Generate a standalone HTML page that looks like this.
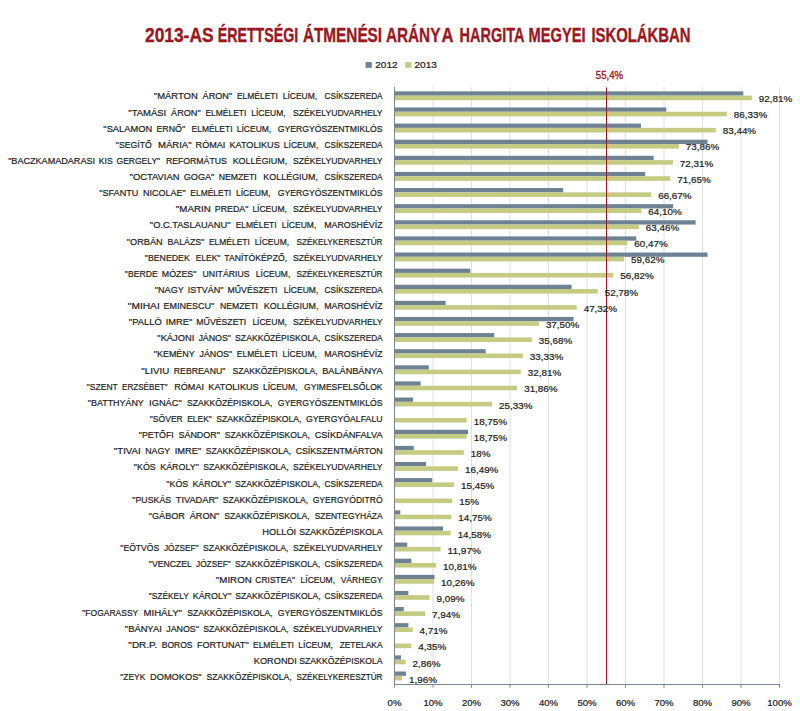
<!DOCTYPE html>
<html><head><meta charset="utf-8"><title>chart</title>
<style>
html,body{margin:0;padding:0;background:#fff;}
body{width:800px;height:711px;overflow:hidden;}
svg{display:block;font-family:"Liberation Sans",sans-serif;}
.c{font-size:9.85px;fill:#1c1c22;stroke:#1c1c22;stroke-width:0.22px;}
.v{font-size:9.8px;fill:#1c1c22;stroke:#1c1c22;stroke-width:0.22px;}
.a{font-size:9.7px;fill:#1c1c22;text-anchor:middle;stroke:#1c1c22;stroke-width:0.22px;}
</style></head><body>
<svg width="800" height="711" viewBox="0 0 800 711">
<rect width="800" height="711" fill="#fff"/>
<g font-size="20.2px" font-weight="bold" fill="#9b1620" stroke="#9b1620" stroke-width="0.35"><text x="145.00" y="42.4" textLength="68.50" lengthAdjust="spacingAndGlyphs">2013-AS</text><text x="217.70" y="42.4" textLength="80.50" lengthAdjust="spacingAndGlyphs">ÉRETTSÉGI</text><text x="302.90" y="42.4" textLength="79.20" lengthAdjust="spacingAndGlyphs">ÁTMENÉSI</text><text x="385.90" y="42.4" textLength="54.45" lengthAdjust="spacingAndGlyphs">ARÁNY</text><text x="441.40" y="42.4" textLength="12.00" lengthAdjust="spacingAndGlyphs">A</text><text x="459.60" y="42.4" textLength="64.75" lengthAdjust="spacingAndGlyphs">HARGITA</text><text x="528.60" y="42.4" textLength="57.00" lengthAdjust="spacingAndGlyphs">MEGYEI</text><text x="591.40" y="42.4" textLength="99.20" lengthAdjust="spacingAndGlyphs">ISKOLÁKBAN</text></g>
<rect x="365.6" y="62.1" width="6.2" height="5.7" fill="#6e8294"/><text class="v" x="375.2" y="68.3" textLength="22.4" lengthAdjust="spacingAndGlyphs">2012</text>
<rect x="405.2" y="62.1" width="6.2" height="5.7" fill="#c4cb82"/><text class="v" x="414.5" y="68.3" textLength="22.4" lengthAdjust="spacingAndGlyphs">2013</text>
<line x1="433.00" y1="87" x2="433.00" y2="687.5" stroke="#e0e0e0" stroke-width="1"/>
<line x1="471.50" y1="87" x2="471.50" y2="687.5" stroke="#e0e0e0" stroke-width="1"/>
<line x1="510.00" y1="87" x2="510.00" y2="687.5" stroke="#e0e0e0" stroke-width="1"/>
<line x1="548.50" y1="87" x2="548.50" y2="687.5" stroke="#e0e0e0" stroke-width="1"/>
<line x1="587.00" y1="87" x2="587.00" y2="687.5" stroke="#e0e0e0" stroke-width="1"/>
<line x1="625.50" y1="87" x2="625.50" y2="687.5" stroke="#e0e0e0" stroke-width="1"/>
<line x1="664.00" y1="87" x2="664.00" y2="687.5" stroke="#e0e0e0" stroke-width="1"/>
<line x1="702.50" y1="87" x2="702.50" y2="687.5" stroke="#e0e0e0" stroke-width="1"/>
<line x1="741.00" y1="87" x2="741.00" y2="687.5" stroke="#e0e0e0" stroke-width="1"/>
<line x1="779.50" y1="87" x2="779.50" y2="687.5" stroke="#e0e0e0" stroke-width="1"/>
<rect x="394.50" y="91.35" width="348.81" height="4.3" fill="#6e8294"/><rect x="394.50" y="95.65" width="357.32" height="4.6" fill="#c4cb82"/>
<rect x="394.50" y="107.46" width="271.81" height="4.3" fill="#6e8294"/><rect x="394.50" y="111.76" width="332.37" height="4.6" fill="#c4cb82"/>
<rect x="394.50" y="123.58" width="246.40" height="4.3" fill="#6e8294"/><rect x="394.50" y="127.88" width="321.24" height="4.6" fill="#c4cb82"/>
<rect x="394.50" y="139.69" width="313.00" height="4.3" fill="#6e8294"/><rect x="394.50" y="144.00" width="284.36" height="4.6" fill="#c4cb82"/>
<rect x="394.50" y="155.81" width="259.11" height="4.3" fill="#6e8294"/><rect x="394.50" y="160.11" width="278.39" height="4.6" fill="#c4cb82"/>
<rect x="394.50" y="171.92" width="250.63" height="4.3" fill="#6e8294"/><rect x="394.50" y="176.22" width="275.85" height="4.6" fill="#c4cb82"/>
<rect x="394.50" y="188.04" width="168.63" height="4.3" fill="#6e8294"/><rect x="394.50" y="192.34" width="256.68" height="4.6" fill="#c4cb82"/>
<rect x="394.50" y="204.15" width="278.74" height="4.3" fill="#6e8294"/><rect x="394.50" y="208.45" width="246.78" height="4.6" fill="#c4cb82"/>
<rect x="394.50" y="220.27" width="301.07" height="4.3" fill="#6e8294"/><rect x="394.50" y="224.57" width="244.32" height="4.6" fill="#c4cb82"/>
<rect x="394.50" y="236.38" width="241.78" height="4.3" fill="#6e8294"/><rect x="394.50" y="240.69" width="232.81" height="4.6" fill="#c4cb82"/>
<rect x="394.50" y="252.50" width="313.00" height="4.3" fill="#6e8294"/><rect x="394.50" y="256.80" width="229.54" height="4.6" fill="#c4cb82"/>
<rect x="394.50" y="268.62" width="75.85" height="4.3" fill="#6e8294"/><rect x="394.50" y="272.92" width="218.76" height="4.6" fill="#c4cb82"/>
<rect x="394.50" y="284.73" width="177.10" height="4.3" fill="#6e8294"/><rect x="394.50" y="289.03" width="203.20" height="4.6" fill="#c4cb82"/>
<rect x="394.50" y="300.84" width="51.20" height="4.3" fill="#6e8294"/><rect x="394.50" y="305.14" width="182.18" height="4.6" fill="#c4cb82"/>
<rect x="394.50" y="316.96" width="179.03" height="4.3" fill="#6e8294"/><rect x="394.50" y="321.26" width="144.38" height="4.6" fill="#c4cb82"/>
<rect x="394.50" y="333.07" width="99.72" height="4.3" fill="#6e8294"/><rect x="394.50" y="337.37" width="137.37" height="4.6" fill="#c4cb82"/>
<rect x="394.50" y="349.19" width="91.25" height="4.3" fill="#6e8294"/><rect x="394.50" y="353.49" width="128.32" height="4.6" fill="#c4cb82"/>
<rect x="394.50" y="365.30" width="34.27" height="4.3" fill="#6e8294"/><rect x="394.50" y="369.60" width="126.32" height="4.6" fill="#c4cb82"/>
<rect x="394.50" y="381.42" width="26.18" height="4.3" fill="#6e8294"/><rect x="394.50" y="385.72" width="122.66" height="4.6" fill="#c4cb82"/>
<rect x="394.50" y="397.53" width="18.48" height="4.3" fill="#6e8294"/><rect x="394.50" y="401.83" width="97.52" height="4.6" fill="#c4cb82"/>
<rect x="394.50" y="417.95" width="72.19" height="4.6" fill="#c4cb82"/>
<rect x="394.50" y="429.76" width="73.54" height="4.3" fill="#6e8294"/><rect x="394.50" y="434.06" width="72.19" height="4.6" fill="#c4cb82"/>
<rect x="394.50" y="445.88" width="19.25" height="4.3" fill="#6e8294"/><rect x="394.50" y="450.18" width="69.30" height="4.6" fill="#c4cb82"/>
<rect x="394.50" y="462.00" width="31.57" height="4.3" fill="#6e8294"/><rect x="394.50" y="466.30" width="63.49" height="4.6" fill="#c4cb82"/>
<rect x="394.50" y="478.11" width="37.73" height="4.3" fill="#6e8294"/><rect x="394.50" y="482.41" width="59.48" height="4.6" fill="#c4cb82"/>
<rect x="394.50" y="498.52" width="57.75" height="4.6" fill="#c4cb82"/>
<rect x="394.50" y="510.34" width="5.78" height="4.3" fill="#6e8294"/><rect x="394.50" y="514.64" width="56.79" height="4.6" fill="#c4cb82"/>
<rect x="394.50" y="526.45" width="48.51" height="4.3" fill="#6e8294"/><rect x="394.50" y="530.75" width="56.13" height="4.6" fill="#c4cb82"/>
<rect x="394.50" y="542.57" width="12.71" height="4.3" fill="#6e8294"/><rect x="394.50" y="546.87" width="46.08" height="4.6" fill="#c4cb82"/>
<rect x="394.50" y="558.68" width="16.94" height="4.3" fill="#6e8294"/><rect x="394.50" y="562.98" width="41.62" height="4.6" fill="#c4cb82"/>
<rect x="394.50" y="574.80" width="40.04" height="4.3" fill="#6e8294"/><rect x="394.50" y="579.10" width="39.50" height="4.6" fill="#c4cb82"/>
<rect x="394.50" y="590.91" width="13.86" height="4.3" fill="#6e8294"/><rect x="394.50" y="595.21" width="35.00" height="4.6" fill="#c4cb82"/>
<rect x="394.50" y="607.03" width="9.24" height="4.3" fill="#6e8294"/><rect x="394.50" y="611.33" width="30.57" height="4.6" fill="#c4cb82"/>
<rect x="394.50" y="623.14" width="13.86" height="4.3" fill="#6e8294"/><rect x="394.50" y="627.44" width="18.13" height="4.6" fill="#c4cb82"/>
<rect x="394.50" y="643.56" width="16.75" height="4.6" fill="#c4cb82"/>
<rect x="394.50" y="655.38" width="6.55" height="4.3" fill="#6e8294"/><rect x="394.50" y="659.67" width="11.01" height="4.6" fill="#c4cb82"/>
<rect x="394.50" y="671.49" width="11.55" height="4.3" fill="#6e8294"/><rect x="394.50" y="675.79" width="7.55" height="4.6" fill="#c4cb82"/>
<line x1="394.50" y1="87" x2="394.50" y2="684.5" stroke="#7f858c" stroke-width="1"/>
<line x1="394.00" y1="684.5" x2="780" y2="684.5" stroke="#7f858c" stroke-width="1"/>
<line x1="394.50" y1="684.5" x2="394.50" y2="687.6" stroke="#7f858c" stroke-width="1"/><line x1="433.00" y1="684.5" x2="433.00" y2="687.6" stroke="#7f858c" stroke-width="1"/><line x1="471.50" y1="684.5" x2="471.50" y2="687.6" stroke="#7f858c" stroke-width="1"/><line x1="510.00" y1="684.5" x2="510.00" y2="687.6" stroke="#7f858c" stroke-width="1"/><line x1="548.50" y1="684.5" x2="548.50" y2="687.6" stroke="#7f858c" stroke-width="1"/><line x1="587.00" y1="684.5" x2="587.00" y2="687.6" stroke="#7f858c" stroke-width="1"/><line x1="625.50" y1="684.5" x2="625.50" y2="687.6" stroke="#7f858c" stroke-width="1"/><line x1="664.00" y1="684.5" x2="664.00" y2="687.6" stroke="#7f858c" stroke-width="1"/><line x1="702.50" y1="684.5" x2="702.50" y2="687.6" stroke="#7f858c" stroke-width="1"/><line x1="741.00" y1="684.5" x2="741.00" y2="687.6" stroke="#7f858c" stroke-width="1"/><line x1="779.50" y1="684.5" x2="779.50" y2="687.6" stroke="#7f858c" stroke-width="1"/>
<line x1="606.5" y1="87.5" x2="606.5" y2="684" stroke="#a3121f" stroke-width="1"/>
<text x="595.8" y="78.7" font-size="10.8px" fill="#a3121f" stroke="#a3121f" stroke-width="0.35" textLength="27.2" lengthAdjust="spacingAndGlyphs">55,4%</text>
<g class="c"><text x="153.85" y="99.40" textLength="43.90" lengthAdjust="spacingAndGlyphs">&quot;MÁRTON</text><text x="202.56" y="99.40" textLength="29.60" lengthAdjust="spacingAndGlyphs">ÁRON&quot;</text><text x="236.97" y="99.40" textLength="40.90" lengthAdjust="spacingAndGlyphs">ELMÉLETI</text><text x="282.68" y="99.40" textLength="34.50" lengthAdjust="spacingAndGlyphs">LÍCEUM,</text><text x="324.55" y="99.40" textLength="58.00" lengthAdjust="spacingAndGlyphs">CSÍKSZEREDA</text></g><text class="v" x="758.82" y="102.05" textLength="33.40" lengthAdjust="spacingAndGlyphs">92,81%</text>
<g class="c"><text x="128.35" y="115.53" textLength="37.90" lengthAdjust="spacingAndGlyphs">&quot;TAMÁSI</text><text x="171.06" y="115.53" textLength="29.60" lengthAdjust="spacingAndGlyphs">ÁRON&quot;</text><text x="205.47" y="115.53" textLength="40.90" lengthAdjust="spacingAndGlyphs">ELMÉLETI</text><text x="251.18" y="115.53" textLength="34.50" lengthAdjust="spacingAndGlyphs">LÍCEUM,</text><text x="293.05" y="115.53" textLength="89.50" lengthAdjust="spacingAndGlyphs">SZÉKELYUDVARHELY</text></g><text class="v" x="733.87" y="118.18" textLength="33.40" lengthAdjust="spacingAndGlyphs">86,33%</text>
<g class="c"><text x="103.35" y="131.66" textLength="48.90" lengthAdjust="spacingAndGlyphs">&quot;SALAMON</text><text x="156.49" y="131.66" textLength="28.60" lengthAdjust="spacingAndGlyphs">ERNŐ&quot;</text><text x="191.60" y="131.66" textLength="40.90" lengthAdjust="spacingAndGlyphs">ELMÉLETI</text><text x="236.74" y="131.66" textLength="34.50" lengthAdjust="spacingAndGlyphs">LÍCEUM,</text><text x="277.75" y="131.66" textLength="104.80" lengthAdjust="spacingAndGlyphs">GYERGYÓSZENTMIKLÓS</text></g><text class="v" x="722.74" y="134.31" textLength="33.40" lengthAdjust="spacingAndGlyphs">83,44%</text>
<g class="c"><text x="115.85" y="147.79" textLength="35.90" lengthAdjust="spacingAndGlyphs">&quot;SEGÍTŐ</text><text x="157.97" y="147.79" textLength="33.60" lengthAdjust="spacingAndGlyphs">MÁRIA&quot;</text><text x="195.62" y="147.79" textLength="29.80" lengthAdjust="spacingAndGlyphs">RÓMAI</text><text x="229.47" y="147.79" textLength="50.30" lengthAdjust="spacingAndGlyphs">KATOLIKUS</text><text x="283.83" y="147.79" textLength="34.50" lengthAdjust="spacingAndGlyphs">LÍCEUM,</text><text x="324.55" y="147.79" textLength="58.00" lengthAdjust="spacingAndGlyphs">CSÍKSZEREDA</text></g><text class="v" x="685.86" y="150.44" textLength="33.40" lengthAdjust="spacingAndGlyphs">73,86%</text>
<g class="c"><text x="8.15" y="163.92" textLength="86.90" lengthAdjust="spacingAndGlyphs">&quot;BACZKAMADARASI</text><text x="98.83" y="163.92" textLength="13.90" lengthAdjust="spacingAndGlyphs">KIS</text><text x="116.50" y="163.92" textLength="43.60" lengthAdjust="spacingAndGlyphs">GERGELY&quot;</text><text x="165.92" y="163.92" textLength="60.90" lengthAdjust="spacingAndGlyphs">REFORMÁTUS</text><text x="232.63" y="163.92" textLength="54.60" lengthAdjust="spacingAndGlyphs">KOLLÉGIUM,</text><text x="293.05" y="163.92" textLength="89.50" lengthAdjust="spacingAndGlyphs">SZÉKELYUDVARHELY</text></g><text class="v" x="679.89" y="166.57" textLength="33.40" lengthAdjust="spacingAndGlyphs">72,31%</text>
<g class="c"><text x="129.55" y="180.05" textLength="49.90" lengthAdjust="spacingAndGlyphs">&quot;OCTAVIAN</text><text x="183.75" y="180.05" textLength="30.60" lengthAdjust="spacingAndGlyphs">GOGA&quot;</text><text x="218.65" y="180.05" textLength="38.10" lengthAdjust="spacingAndGlyphs">NEMZETI</text><text x="263.35" y="180.05" textLength="54.60" lengthAdjust="spacingAndGlyphs">KOLLÉGIUM,</text><text x="324.55" y="180.05" textLength="58.00" lengthAdjust="spacingAndGlyphs">CSÍKSZEREDA</text></g><text class="v" x="677.35" y="182.70" textLength="33.40" lengthAdjust="spacingAndGlyphs">71,65%</text>
<g class="c"><text x="99.35" y="196.18" textLength="38.90" lengthAdjust="spacingAndGlyphs">&quot;SFANTU</text><text x="142.99" y="196.18" textLength="42.60" lengthAdjust="spacingAndGlyphs">NICOLAE&quot;</text><text x="190.34" y="196.18" textLength="40.90" lengthAdjust="spacingAndGlyphs">ELMÉLETI</text><text x="235.98" y="196.18" textLength="34.50" lengthAdjust="spacingAndGlyphs">LÍCEUM,</text><text x="277.75" y="196.18" textLength="104.80" lengthAdjust="spacingAndGlyphs">GYERGYÓSZENTMIKLÓS</text></g><text class="v" x="658.18" y="198.83" textLength="33.40" lengthAdjust="spacingAndGlyphs">66,67%</text>
<g class="c"><text x="175.85" y="212.31" textLength="34.90" lengthAdjust="spacingAndGlyphs">&quot;MARIN</text><text x="214.76" y="212.31" textLength="33.60" lengthAdjust="spacingAndGlyphs">PREDA&quot;</text><text x="252.38" y="212.31" textLength="34.50" lengthAdjust="spacingAndGlyphs">LÍCEUM,</text><text x="293.05" y="212.31" textLength="89.50" lengthAdjust="spacingAndGlyphs">SZÉKELYUDVARHELY</text></g><text class="v" x="648.28" y="214.96" textLength="33.40" lengthAdjust="spacingAndGlyphs">64,10%</text>
<g class="c"><text x="149.85" y="228.44" textLength="80.60" lengthAdjust="spacingAndGlyphs">&quot;O.C.TASLAUANU&quot;</text><text x="235.66" y="228.44" textLength="40.90" lengthAdjust="spacingAndGlyphs">ELMÉLETI</text><text x="281.78" y="228.44" textLength="34.50" lengthAdjust="spacingAndGlyphs">LÍCEUM,</text><text x="324.25" y="228.44" textLength="58.30" lengthAdjust="spacingAndGlyphs">MAROSHÉVÍZ</text></g><text class="v" x="645.82" y="231.09" textLength="33.40" lengthAdjust="spacingAndGlyphs">63,46%</text>
<g class="c"><text x="126.85" y="244.57" textLength="35.90" lengthAdjust="spacingAndGlyphs">&quot;ORBÁN</text><text x="167.55" y="244.57" textLength="36.60" lengthAdjust="spacingAndGlyphs">BALÁZS&quot;</text><text x="208.95" y="244.57" textLength="40.90" lengthAdjust="spacingAndGlyphs">ELMÉLETI</text><text x="254.65" y="244.57" textLength="34.50" lengthAdjust="spacingAndGlyphs">LÍCEUM,</text><text x="296.50" y="244.57" textLength="86.05" lengthAdjust="spacingAndGlyphs">SZÉKELYKERESZTÚR</text></g><text class="v" x="634.31" y="247.22" textLength="33.40" lengthAdjust="spacingAndGlyphs">60,47%</text>
<g class="c"><text x="144.85" y="260.70" textLength="44.90" lengthAdjust="spacingAndGlyphs">&quot;BENEDEK</text><text x="195.75" y="260.70" textLength="24.60" lengthAdjust="spacingAndGlyphs">ELEK&quot;</text><text x="224.25" y="260.70" textLength="62.80" lengthAdjust="spacingAndGlyphs">TANÍTÓKÉPZŐ,</text><text x="293.05" y="260.70" textLength="89.50" lengthAdjust="spacingAndGlyphs">SZÉKELYUDVARHELY</text></g><text class="v" x="631.04" y="263.35" textLength="33.40" lengthAdjust="spacingAndGlyphs">59,62%</text>
<g class="c"><text x="124.85" y="276.83" textLength="32.90" lengthAdjust="spacingAndGlyphs">&quot;BERDE</text><text x="161.78" y="276.83" textLength="34.60" lengthAdjust="spacingAndGlyphs">MÓZES&quot;</text><text x="202.57" y="276.83" textLength="47.05" lengthAdjust="spacingAndGlyphs">UNITÁRIUS</text><text x="255.81" y="276.83" textLength="34.50" lengthAdjust="spacingAndGlyphs">LÍCEUM,</text><text x="296.50" y="276.83" textLength="86.05" lengthAdjust="spacingAndGlyphs">SZÉKELYKERESZTÚR</text></g><text class="v" x="620.26" y="279.48" textLength="33.40" lengthAdjust="spacingAndGlyphs">56,82%</text>
<g class="c"><text x="154.85" y="292.96" textLength="28.90" lengthAdjust="spacingAndGlyphs">&quot;NAGY</text><text x="187.85" y="292.96" textLength="35.60" lengthAdjust="spacingAndGlyphs">ISTVÁN&quot;</text><text x="227.55" y="292.96" textLength="49.90" lengthAdjust="spacingAndGlyphs">MŰVÉSZETI</text><text x="283.75" y="292.96" textLength="34.50" lengthAdjust="spacingAndGlyphs">LÍCEUM,</text><text x="324.55" y="292.96" textLength="58.00" lengthAdjust="spacingAndGlyphs">CSÍKSZEREDA</text></g><text class="v" x="604.70" y="295.61" textLength="33.40" lengthAdjust="spacingAndGlyphs">52,78%</text>
<g class="c"><text x="127.85" y="309.09" textLength="31.90" lengthAdjust="spacingAndGlyphs">&quot;MIHAI</text><text x="163.52" y="309.09" textLength="50.60" lengthAdjust="spacingAndGlyphs">EMINESCU&quot;</text><text x="219.93" y="309.09" textLength="38.10" lengthAdjust="spacingAndGlyphs">NEMZETI</text><text x="263.84" y="309.09" textLength="54.60" lengthAdjust="spacingAndGlyphs">KOLLÉGIUM,</text><text x="324.25" y="309.09" textLength="58.30" lengthAdjust="spacingAndGlyphs">MAROSHÉVÍZ</text></g><text class="v" x="583.68" y="311.74" textLength="33.40" lengthAdjust="spacingAndGlyphs">47,32%</text>
<g class="c"><text x="128.85" y="325.22" textLength="32.90" lengthAdjust="spacingAndGlyphs">&quot;PALLÓ</text><text x="165.75" y="325.22" textLength="26.60" lengthAdjust="spacingAndGlyphs">IMRE&quot;</text><text x="196.35" y="325.22" textLength="49.90" lengthAdjust="spacingAndGlyphs">MŰVÉSZETI</text><text x="252.40" y="325.22" textLength="34.50" lengthAdjust="spacingAndGlyphs">LÍCEUM,</text><text x="293.05" y="325.22" textLength="89.50" lengthAdjust="spacingAndGlyphs">SZÉKELYUDVARHELY</text></g><text class="v" x="545.88" y="327.87" textLength="33.40" lengthAdjust="spacingAndGlyphs">37,50%</text>
<g class="c"><text x="157.35" y="341.35" textLength="36.90" lengthAdjust="spacingAndGlyphs">&quot;KÁJONI</text><text x="198.38" y="341.35" textLength="32.60" lengthAdjust="spacingAndGlyphs">JÁNOS&quot;</text><text x="235.12" y="341.35" textLength="85.30" lengthAdjust="spacingAndGlyphs">SZAKKÖZÉPISKOLA,</text><text x="324.55" y="341.35" textLength="58.00" lengthAdjust="spacingAndGlyphs">CSÍKSZEREDA</text></g><text class="v" x="538.87" y="344.00" textLength="33.40" lengthAdjust="spacingAndGlyphs">35,68%</text>
<g class="c"><text x="153.85" y="357.48" textLength="40.90" lengthAdjust="spacingAndGlyphs">&quot;KEMÉNY</text><text x="199.49" y="357.48" textLength="32.60" lengthAdjust="spacingAndGlyphs">JÁNOS&quot;</text><text x="236.84" y="357.48" textLength="40.90" lengthAdjust="spacingAndGlyphs">ELMÉLETI</text><text x="282.48" y="357.48" textLength="34.50" lengthAdjust="spacingAndGlyphs">LÍCEUM,</text><text x="324.25" y="357.48" textLength="58.30" lengthAdjust="spacingAndGlyphs">MAROSHÉVÍZ</text></g><text class="v" x="529.82" y="360.13" textLength="33.40" lengthAdjust="spacingAndGlyphs">33,33%</text>
<g class="c"><text x="141.35" y="373.61" textLength="27.90" lengthAdjust="spacingAndGlyphs">&quot;LIVIU</text><text x="173.81" y="373.61" textLength="51.60" lengthAdjust="spacingAndGlyphs">REBREANU&quot;</text><text x="232.39" y="373.61" textLength="85.30" lengthAdjust="spacingAndGlyphs">SZAKKÖZÉPISKOLA,</text><text x="322.25" y="373.61" textLength="60.30" lengthAdjust="spacingAndGlyphs">BALÁNBÁNYA</text></g><text class="v" x="527.82" y="376.26" textLength="33.40" lengthAdjust="spacingAndGlyphs">32,81%</text>
<g class="c"><text x="86.85" y="389.74" textLength="30.90" lengthAdjust="spacingAndGlyphs">&quot;SZENT</text><text x="122.04" y="389.74" textLength="45.60" lengthAdjust="spacingAndGlyphs">ERZSÉBET&quot;</text><text x="174.23" y="389.74" textLength="29.80" lengthAdjust="spacingAndGlyphs">RÓMAI</text><text x="208.32" y="389.74" textLength="50.30" lengthAdjust="spacingAndGlyphs">KATOLIKUS</text><text x="262.91" y="389.74" textLength="34.50" lengthAdjust="spacingAndGlyphs">LÍCEUM,</text><text x="304.00" y="389.74" textLength="78.55" lengthAdjust="spacingAndGlyphs">GYIMESFELSŐLOK</text></g><text class="v" x="524.16" y="392.39" textLength="33.40" lengthAdjust="spacingAndGlyphs">31,86%</text>
<g class="c"><text x="87.85" y="405.87" textLength="55.90" lengthAdjust="spacingAndGlyphs">&quot;BATTHYÁNY</text><text x="149.12" y="405.87" textLength="32.60" lengthAdjust="spacingAndGlyphs">IGNÁC&quot;</text><text x="187.08" y="405.87" textLength="85.30" lengthAdjust="spacingAndGlyphs">SZAKKÖZÉPISKOLA,</text><text x="277.75" y="405.87" textLength="104.80" lengthAdjust="spacingAndGlyphs">GYERGYÓSZENTMIKLÓS</text></g><text class="v" x="499.02" y="408.52" textLength="33.40" lengthAdjust="spacingAndGlyphs">25,33%</text>
<g class="c"><text x="149.85" y="422.00" textLength="32.90" lengthAdjust="spacingAndGlyphs">&quot;SÖVER</text><text x="187.18" y="422.00" textLength="24.60" lengthAdjust="spacingAndGlyphs">ELEK&quot;</text><text x="216.22" y="422.00" textLength="85.30" lengthAdjust="spacingAndGlyphs">SZAKKÖZÉPISKOLA,</text><text x="305.95" y="422.00" textLength="76.60" lengthAdjust="spacingAndGlyphs">GYERGYÓALFALU</text></g><text class="v" x="473.69" y="424.65" textLength="33.40" lengthAdjust="spacingAndGlyphs">18,75%</text>
<g class="c"><text x="138.85" y="438.13" textLength="34.90" lengthAdjust="spacingAndGlyphs">&quot;PETŐFI</text><text x="178.42" y="438.13" textLength="41.60" lengthAdjust="spacingAndGlyphs">SÁNDOR&quot;</text><text x="224.68" y="438.13" textLength="85.30" lengthAdjust="spacingAndGlyphs">SZAKKÖZÉPISKOLA,</text><text x="314.65" y="438.13" textLength="67.90" lengthAdjust="spacingAndGlyphs">CSÍKDÁNFALVA</text></g><text class="v" x="473.69" y="440.78" textLength="33.40" lengthAdjust="spacingAndGlyphs">18,75%</text>
<g class="c"><text x="113.85" y="454.26" textLength="26.90" lengthAdjust="spacingAndGlyphs">&quot;TIVAI</text><text x="145.27" y="454.26" textLength="24.90" lengthAdjust="spacingAndGlyphs">NAGY</text><text x="174.70" y="454.26" textLength="26.60" lengthAdjust="spacingAndGlyphs">IMRE&quot;</text><text x="205.82" y="454.26" textLength="85.30" lengthAdjust="spacingAndGlyphs">SZAKKÖZÉPISKOLA,</text><text x="295.65" y="454.26" textLength="86.90" lengthAdjust="spacingAndGlyphs">CSÍKSZENTMÁRTON</text></g><text class="v" x="470.80" y="456.91" textLength="19.71" lengthAdjust="spacingAndGlyphs">18%</text>
<g class="c"><text x="133.85" y="470.39" textLength="21.90" lengthAdjust="spacingAndGlyphs">&quot;KÓS</text><text x="160.22" y="470.39" textLength="38.60" lengthAdjust="spacingAndGlyphs">KÁROLY&quot;</text><text x="203.28" y="470.39" textLength="85.30" lengthAdjust="spacingAndGlyphs">SZAKKÖZÉPISKOLA,</text><text x="293.05" y="470.39" textLength="89.50" lengthAdjust="spacingAndGlyphs">SZÉKELYUDVARHELY</text></g><text class="v" x="464.99" y="473.04" textLength="33.40" lengthAdjust="spacingAndGlyphs">16,49%</text>
<g class="c"><text x="166.35" y="486.52" textLength="21.90" lengthAdjust="spacingAndGlyphs">&quot;KÓS</text><text x="192.38" y="486.52" textLength="38.60" lengthAdjust="spacingAndGlyphs">KÁROLY&quot;</text><text x="235.12" y="486.52" textLength="85.30" lengthAdjust="spacingAndGlyphs">SZAKKÖZÉPISKOLA,</text><text x="324.55" y="486.52" textLength="58.00" lengthAdjust="spacingAndGlyphs">CSÍKSZEREDA</text></g><text class="v" x="460.98" y="489.17" textLength="33.40" lengthAdjust="spacingAndGlyphs">15,45%</text>
<g class="c"><text x="132.35" y="502.65" textLength="38.90" lengthAdjust="spacingAndGlyphs">&quot;PUSKÁS</text><text x="175.75" y="502.65" textLength="42.60" lengthAdjust="spacingAndGlyphs">TIVADAR&quot;</text><text x="222.85" y="502.65" textLength="85.30" lengthAdjust="spacingAndGlyphs">SZAKKÖZÉPISKOLA,</text><text x="312.65" y="502.65" textLength="69.90" lengthAdjust="spacingAndGlyphs">GYERGYÓDITRÓ</text></g><text class="v" x="459.25" y="505.30" textLength="19.71" lengthAdjust="spacingAndGlyphs">15%</text>
<g class="c"><text x="148.85" y="518.78" textLength="35.90" lengthAdjust="spacingAndGlyphs">&quot;GÁBOR</text><text x="189.75" y="518.78" textLength="29.60" lengthAdjust="spacingAndGlyphs">ÁRON&quot;</text><text x="224.35" y="518.78" textLength="85.30" lengthAdjust="spacingAndGlyphs">SZAKKÖZÉPISKOLA,</text><text x="314.65" y="518.78" textLength="67.90" lengthAdjust="spacingAndGlyphs">SZENTEGYHÁZA</text></g><text class="v" x="458.29" y="521.43" textLength="33.40" lengthAdjust="spacingAndGlyphs">14,75%</text>
<g class="c"><text x="262.35" y="534.91" textLength="33.80" lengthAdjust="spacingAndGlyphs">HOLLÓI</text><text x="299.25" y="534.91" textLength="83.30" lengthAdjust="spacingAndGlyphs">SZAKKÖZÉPISKOLA</text></g><text class="v" x="457.63" y="537.56" textLength="33.40" lengthAdjust="spacingAndGlyphs">14,58%</text>
<g class="c"><text x="120.35" y="551.04" textLength="38.90" lengthAdjust="spacingAndGlyphs">&quot;EÖTVÖS</text><text x="163.88" y="551.04" textLength="34.60" lengthAdjust="spacingAndGlyphs">JÓZSEF&quot;</text><text x="203.12" y="551.04" textLength="85.30" lengthAdjust="spacingAndGlyphs">SZAKKÖZÉPISKOLA,</text><text x="293.05" y="551.04" textLength="89.50" lengthAdjust="spacingAndGlyphs">SZÉKELYUDVARHELY</text></g><text class="v" x="447.58" y="553.69" textLength="33.40" lengthAdjust="spacingAndGlyphs">11,97%</text>
<g class="c"><text x="148.85" y="567.17" textLength="42.90" lengthAdjust="spacingAndGlyphs">&quot;VENCZEL</text><text x="196.05" y="567.17" textLength="34.60" lengthAdjust="spacingAndGlyphs">JÓZSEF&quot;</text><text x="234.95" y="567.17" textLength="85.30" lengthAdjust="spacingAndGlyphs">SZAKKÖZÉPISKOLA,</text><text x="324.55" y="567.17" textLength="58.00" lengthAdjust="spacingAndGlyphs">CSÍKSZEREDA</text></g><text class="v" x="443.12" y="569.82" textLength="33.40" lengthAdjust="spacingAndGlyphs">10,81%</text>
<g class="c"><text x="215.85" y="583.30" textLength="35.90" lengthAdjust="spacingAndGlyphs">&quot;MIRON</text><text x="255.37" y="583.30" textLength="39.60" lengthAdjust="spacingAndGlyphs">CRISTEA&quot;</text><text x="300.56" y="583.30" textLength="34.50" lengthAdjust="spacingAndGlyphs">LÍCEUM,</text><text x="340.65" y="583.30" textLength="41.90" lengthAdjust="spacingAndGlyphs">VÁRHEGY</text></g><text class="v" x="441.00" y="585.95" textLength="33.40" lengthAdjust="spacingAndGlyphs">10,26%</text>
<g class="c"><text x="148.85" y="599.43" textLength="39.90" lengthAdjust="spacingAndGlyphs">&quot;SZÉKELY</text><text x="192.72" y="599.43" textLength="38.60" lengthAdjust="spacingAndGlyphs">KÁROLY&quot;</text><text x="235.28" y="599.43" textLength="85.30" lengthAdjust="spacingAndGlyphs">SZAKKÖZÉPISKOLA,</text><text x="324.55" y="599.43" textLength="58.00" lengthAdjust="spacingAndGlyphs">CSÍKSZEREDA</text></g><text class="v" x="436.50" y="602.08" textLength="27.92" lengthAdjust="spacingAndGlyphs">9,09%</text>
<g class="c"><text x="82.35" y="615.56" textLength="55.90" lengthAdjust="spacingAndGlyphs">&quot;FOGARASSY</text><text x="143.45" y="615.56" textLength="38.60" lengthAdjust="spacingAndGlyphs">MIHÁLY&quot;</text><text x="187.25" y="615.56" textLength="85.30" lengthAdjust="spacingAndGlyphs">SZAKKÖZÉPISKOLA,</text><text x="277.75" y="615.56" textLength="104.80" lengthAdjust="spacingAndGlyphs">GYERGYÓSZENTMIKLÓS</text></g><text class="v" x="432.07" y="618.21" textLength="27.92" lengthAdjust="spacingAndGlyphs">7,94%</text>
<g class="c"><text x="124.85" y="631.69" textLength="36.90" lengthAdjust="spacingAndGlyphs">&quot;BÁNYAI</text><text x="166.22" y="631.69" textLength="32.60" lengthAdjust="spacingAndGlyphs">JANOS&quot;</text><text x="203.28" y="631.69" textLength="85.30" lengthAdjust="spacingAndGlyphs">SZAKKÖZÉPISKOLA,</text><text x="293.05" y="631.69" textLength="89.50" lengthAdjust="spacingAndGlyphs">SZÉKELYUDVARHELY</text></g><text class="v" x="419.63" y="634.34" textLength="27.92" lengthAdjust="spacingAndGlyphs">4,71%</text>
<g class="c"><text x="128.35" y="647.82" textLength="28.90" lengthAdjust="spacingAndGlyphs">&quot;DR.P.</text><text x="161.68" y="647.82" textLength="30.90" lengthAdjust="spacingAndGlyphs">BOROS</text><text x="197.00" y="647.82" textLength="51.60" lengthAdjust="spacingAndGlyphs">FORTUNAT&quot;</text><text x="253.03" y="647.82" textLength="40.90" lengthAdjust="spacingAndGlyphs">ELMÉLETI</text><text x="298.36" y="647.82" textLength="34.50" lengthAdjust="spacingAndGlyphs">LÍCEUM,</text><text x="339.65" y="647.82" textLength="42.90" lengthAdjust="spacingAndGlyphs">ZETELAKA</text></g><text class="v" x="418.25" y="650.47" textLength="27.92" lengthAdjust="spacingAndGlyphs">4,35%</text>
<g class="c"><text x="253.85" y="663.95" textLength="42.90" lengthAdjust="spacingAndGlyphs">KORONDI</text><text x="299.25" y="663.95" textLength="83.30" lengthAdjust="spacingAndGlyphs">SZAKKÖZÉPISKOLA</text></g><text class="v" x="412.51" y="666.60" textLength="27.92" lengthAdjust="spacingAndGlyphs">2,86%</text>
<g class="c"><text x="120.35" y="680.08" textLength="24.90" lengthAdjust="spacingAndGlyphs">&quot;ZEYK</text><text x="150.03" y="680.08" textLength="51.60" lengthAdjust="spacingAndGlyphs">DOMOKOS&quot;</text><text x="206.42" y="680.08" textLength="85.30" lengthAdjust="spacingAndGlyphs">SZAKKÖZÉPISKOLA,</text><text x="296.50" y="680.08" textLength="86.05" lengthAdjust="spacingAndGlyphs">SZÉKELYKERESZTÚR</text></g><text class="v" x="409.05" y="682.73" textLength="27.92" lengthAdjust="spacingAndGlyphs">1,96%</text>
<text class="a" x="394.50" y="705.6" textLength="13.87" lengthAdjust="spacingAndGlyphs">0%</text><text class="a" x="433.00" y="705.6" textLength="19.21" lengthAdjust="spacingAndGlyphs">10%</text><text class="a" x="471.50" y="705.6" textLength="19.21" lengthAdjust="spacingAndGlyphs">20%</text><text class="a" x="510.00" y="705.6" textLength="19.21" lengthAdjust="spacingAndGlyphs">30%</text><text class="a" x="548.50" y="705.6" textLength="19.21" lengthAdjust="spacingAndGlyphs">40%</text><text class="a" x="587.00" y="705.6" textLength="19.21" lengthAdjust="spacingAndGlyphs">50%</text><text class="a" x="625.50" y="705.6" textLength="19.21" lengthAdjust="spacingAndGlyphs">60%</text><text class="a" x="664.00" y="705.6" textLength="19.21" lengthAdjust="spacingAndGlyphs">70%</text><text class="a" x="702.50" y="705.6" textLength="19.21" lengthAdjust="spacingAndGlyphs">80%</text><text class="a" x="741.00" y="705.6" textLength="19.21" lengthAdjust="spacingAndGlyphs">90%</text><text class="a" x="779.50" y="705.6" textLength="24.55" lengthAdjust="spacingAndGlyphs">100%</text>
</svg></body></html>
